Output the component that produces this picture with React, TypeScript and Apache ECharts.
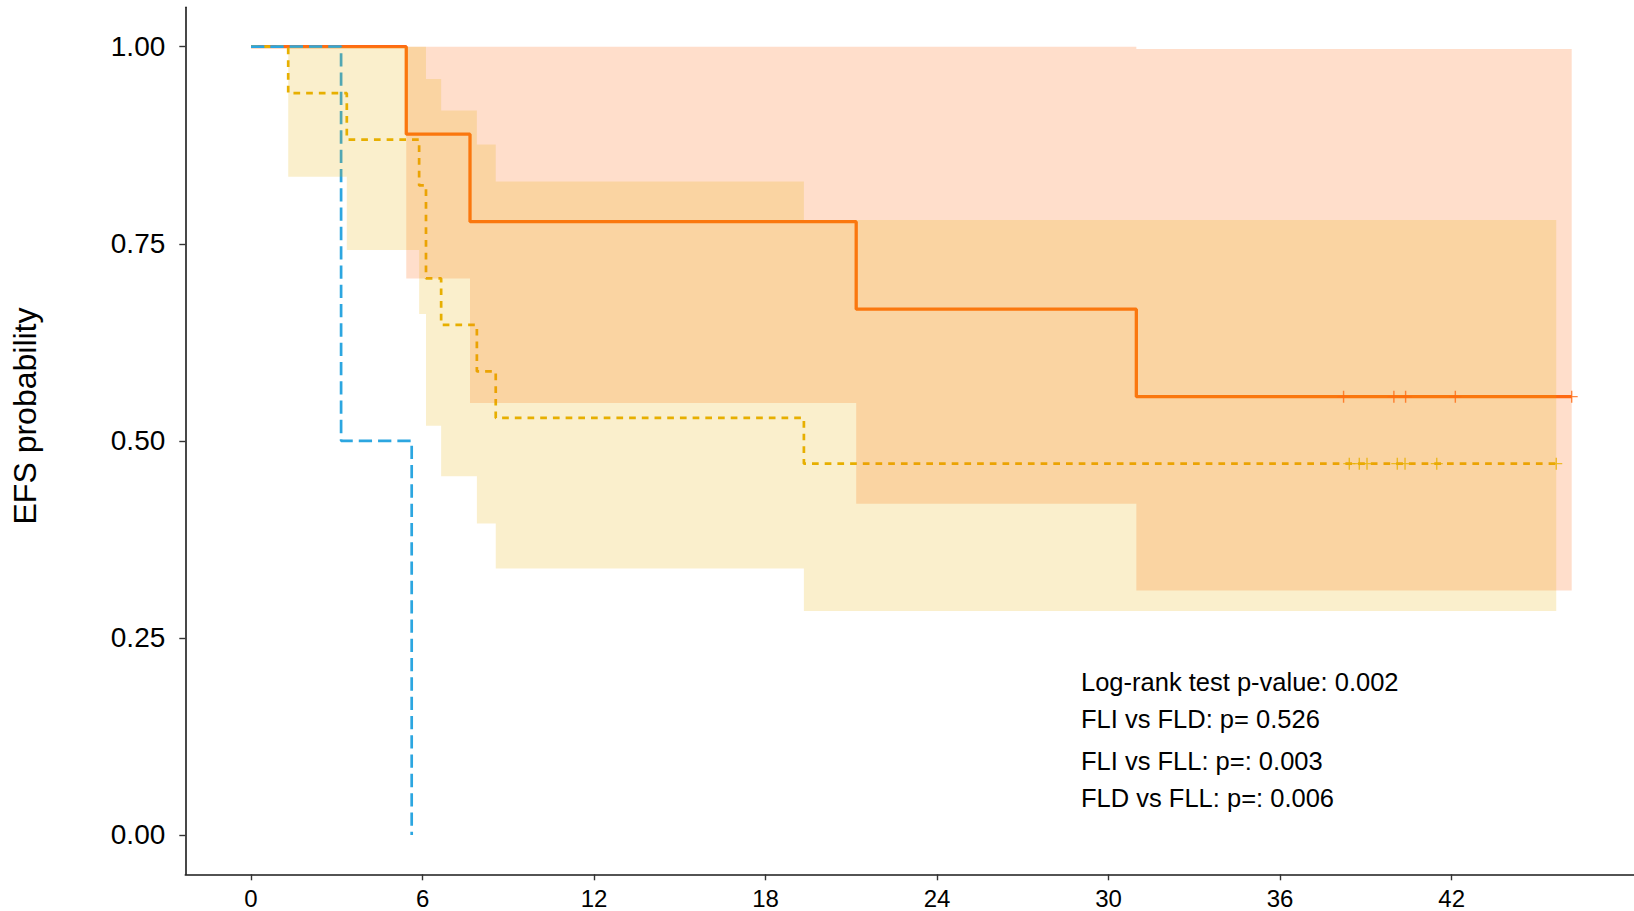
import React, { useEffect, useRef } from "react";
import * as echarts from "echarts";

// ---- axis ticks ----
const xTicks = [0, 6, 12, 18, 24, 30, 36, 42];
const yTicks = [0, 0.25, 0.5, 0.75, 1];

// ---- FLI (orange, solid) ----
const fliTimes = [0, 5.43, 7.66, 21.17, 30.97, 46.2];
const fliSurv = [1, 0.889, 0.778, 0.667, 0.556, 0.556];
const fliBandTimes = [5.43, 7.66, 21.17, 30.97, 46.2];
const fliUpper = [1.0, 1.0, 1.0, 0.997, 0.997];
const fliLower = [0.706, 0.548, 0.42, 0.31, 0.31];
const fliCensor = [38.22, 39.98, 40.39, 42.13, 46.2];

// ---- FLD (yellow, dashed) ----
const fldTimes = [0, 1.3, 3.35, 5.88, 6.12, 6.65, 7.9, 8.56, 19.34, 45.66];
const fldSurv = [1, 0.941, 0.882, 0.824, 0.706, 0.647, 0.588, 0.529, 0.471, 0.471];
const fldBandTimes = [1.3, 3.35, 5.88, 6.12, 6.65, 7.9, 8.56, 19.34, 45.66];
const fldUpper = [1, 1, 1, 0.959, 0.919, 0.876, 0.829, 0.78, 0.78];
const fldLower = [0.835, 0.742, 0.661, 0.519, 0.455, 0.395, 0.338, 0.284, 0.284];
const fldCensor = [38.42, 38.77, 39.04, 40.1, 40.37, 41.48, 45.66];

// ---- FLL (blue, long dash) ----
const fllTimes = [0, 3.15, 5.62];
const fllSurv = [1, 0.5, 0];

// ---- texts ----
const yTitle = "EFS probability";
const annotations = [
  "Log-rank test p-value: 0.002",
  "FLI vs FLD: p= 0.526",
  "FLI vs FLL: p=: 0.003",
  "FLD vs FLL: p=: 0.006",
];

const ORANGE = "#FF6A13";
const YELLOW = "#E8B000";
const BLUE = "#2CA6E0";
const FONT = '"Liberation Sans", Arial, Helvetica, sans-serif';

const pairs = (xs: number[], ys: number[]) => xs.map((x, i) => [x, ys[i]]);

// Step-shaped confidence ribbon drawn as one polygon through the axis scales
function bandSeries(times: number[], lower: number[], upper: number[], fill: string) {
  return {
    type: "custom",
    silent: true,
    z: 3,
    data: [[times[0], lower[0]]],
    renderItem: (_params: any, api: any) => {
      const pts: number[][] = [];
      const n = times.length;
      for (let i = 0; i < n - 1; i++) {
        pts.push(api.coord([times[i], upper[i]]));
        pts.push(api.coord([times[i + 1], upper[i]]));
      }
      for (let i = n - 2; i >= 0; i--) {
        pts.push(api.coord([times[i + 1], lower[i]]));
        pts.push(api.coord([times[i], lower[i]]));
      }
      return {
        type: "polygon",
        shape: { points: pts },
        style: { fill, stroke: "none" },
      };
    },
  };
}

function censorSeries(times: number[], value: number, color: string) {
  return {
    type: "scatter",
    symbol: "path://M5,0 L5,10 M0,5 L10,5",
    symbolSize: 12,
    silent: true,
    itemStyle: { color: "transparent", borderColor: color, borderWidth: 1.4 },
    data: times.map((t) => [t, value]),
    z: 4,
  };
}

export default function App() {
  const ref = useRef<HTMLDivElement>(null);

  useEffect(() => {
    if (!ref.current) return;
    const chart = echarts.init(ref.current, undefined, { renderer: "svg" });

    const annY = [682, 718.5, 760.5, 798];

    const option: any = {
      animation: false,
      backgroundColor: "#ffffff",
      grid: {
        left: 185.3,
        top: 7.3,
        right: 0,
        bottom: 36.7,
        containLabel: false,
        outerBoundsMode: "none",
      },
      xAxis: {
        type: "value",
        min: -2.3,
        max: 48.38,
        splitLine: { show: false },
        axisLine: { show: true, onZero: false, lineStyle: { color: "#1a1a1a", width: 1.6 } },
        axisTick: {
          show: true,
          length: 6,
          customValues: xTicks,
          lineStyle: { color: "#333", width: 1.4 },
        },
        axisLabel: {
          customValues: xTicks,
          fontSize: 24,
          lineHeight: 18,
          fontFamily: FONT,
          color: "#000",
          margin: 15,
        },
      },
      yAxis: {
        type: "value",
        min: -0.05,
        max: 1.05,
        splitLine: { show: false },
        axisLine: { show: true, onZero: false, lineStyle: { color: "#1a1a1a", width: 1.6 } },
        axisTick: {
          show: true,
          length: 6,
          customValues: yTicks,
          lineStyle: { color: "#333", width: 1.4 },
        },
        axisLabel: {
          customValues: yTicks,
          fontSize: 28,
          fontFamily: FONT,
          color: "#000",
          margin: 20,
          formatter: (v: number) => v.toFixed(2),
        },
      },
      series: [
        {
          name: "FLI",
          type: "line",
          step: "end",
          symbol: "none",
          silent: true,
          lineStyle: { color: ORANGE, width: 3.3 },
          data: pairs(fliTimes, fliSurv),
          z: 2,
        },
        {
          name: "FLD",
          type: "line",
          step: "end",
          symbol: "none",
          silent: true,
          lineStyle: { color: YELLOW, width: 2.7, type: [6.7, 6] },
          data: pairs(fldTimes, fldSurv),
          z: 2,
        },
        {
          name: "FLL",
          type: "line",
          step: "end",
          symbol: "none",
          silent: true,
          lineStyle: { color: BLUE, width: 2.7, type: [13.3, 6] },
          data: pairs(fllTimes, fllSurv),
          z: 2,
        },
        bandSeries(fliBandTimes, fliLower, fliUpper, "rgba(255,106,19,0.22)"),
        bandSeries(fldBandTimes, fldLower, fldUpper, "rgba(232,176,0,0.2)"),
        censorSeries(fliCensor, fliSurv[fliSurv.length - 1], ORANGE),
        censorSeries(fldCensor, fldSurv[fldSurv.length - 1], YELLOW),
      ],
      graphic: [
        {
          type: "text",
          x: 25,
          y: 416,
          rotation: Math.PI / 2,
          silent: true,
          style: {
            text: yTitle,
            font: `32px ${FONT}`,
            fill: "#000",
            textAlign: "center",
            textVerticalAlign: "middle",
          },
        },
        ...annotations.map((t, i) => ({
          type: "text",
          x: 1081,
          y: annY[i],
          silent: true,
          style: {
            text: t,
            font: `25.5px ${FONT}`,
            fill: "#000",
            textAlign: "left",
            textVerticalAlign: "middle",
          },
        })),
      ],
    };

    chart.setOption(option);
    return () => {
      chart.dispose();
    };
  }, []);

  return (
    <div
      ref={ref}
      style={{ position: "fixed", left: 0, top: 0, width: 1634, height: 911, background: "#fff" }}
    />
  );
}
